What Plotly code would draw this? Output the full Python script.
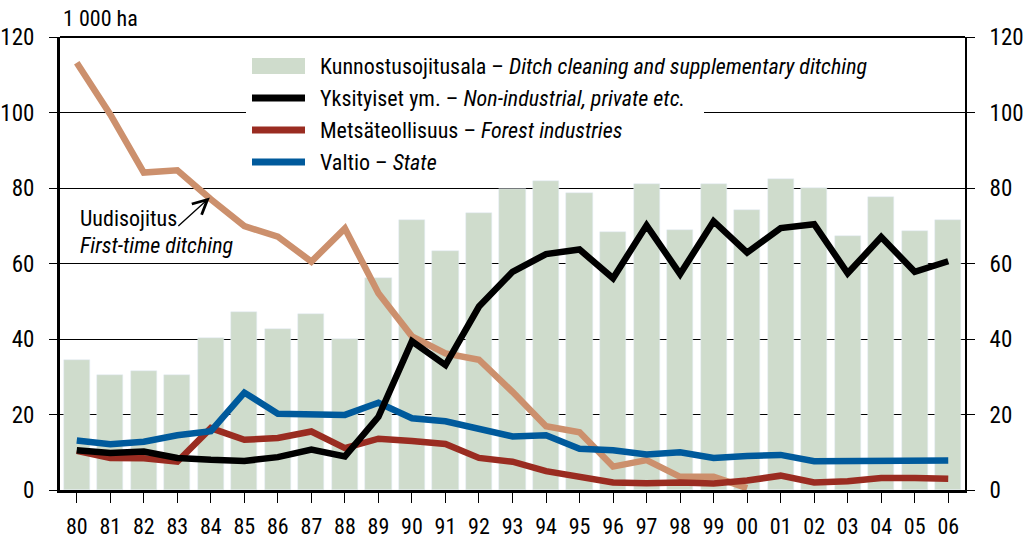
import plotly.graph_objects as go

years = ['80', '81', '82', '83', '84', '85', '86', '87', '88', '89', '90', '91', '92', '93',
         '94', '95', '96', '97', '98', '99', '00', '01', '02', '03', '04', '05', '06']

kunnostus = [34.5, 30.5, 31.5, 30.5, 40.3, 47.2, 42.7, 46.6, 40.0, 56.2, 71.5, 63.3, 73.4, 79.7,
             81.9, 78.7, 68.3, 81.0, 68.9, 81.0, 74.2, 82.4, 80.0, 67.3, 77.6, 68.6, 71.5]
yksityiset = [10.5, 9.8, 10.2, 8.5, 8.0, 7.7, 8.7, 10.7, 8.9, 19.4, 39.4, 33.1, 48.6, 57.8,
              62.5, 63.7, 56.1, 70.1, 57.2, 71.2, 62.9, 69.4, 70.4, 57.4, 67.0, 57.8, 60.6]
metsateollisuus = [10.4, 8.5, 8.4, 7.5, 16.4, 13.3, 13.8, 15.5, 11.1, 13.6, 13.0, 12.2, 8.5, 7.5,
                   5.0, 3.6, 2.0, 1.8, 2.0, 1.7, 2.5, 3.8, 2.0, 2.3, 3.2, 3.2, 3.0]
valtio = [13.1, 12.1, 12.8, 14.5, 15.6, 25.8, 20.2, 20.0, 19.9, 23.1, 19.0, 18.2, 16.4, 14.2,
          14.5, 10.9, 10.5, 9.4, 10.0, 8.5, 9.0, 9.3, 7.6, 7.7, 7.5, 7.7, 7.8]
uudisojitus = [113.2, 99.5, 84.1, 84.7, 77.0, 69.9, 67.1, 60.5, 69.3, 52.1, 40.7, 36.2, 34.5, 26.0,
               16.9, 15.3, 6.2, 7.9, 3.5, 3.5, 0.5, None, None, None, None, None, None]

font = 'Liberation Sans Narrow, Roboto Condensed, DejaVu Sans Condensed, sans-serif'
c_bar = '#cfdccc'
c_black = '#000000'
c_red = '#9a2c21'
c_blue = '#005a9c'
c_tan = '#cc906d'

x = list(range(len(years)))

fig = go.Figure()
fig.add_trace(go.Bar(x=x, y=kunnostus, marker_color=c_bar, width=0.78, name='Kunnostusojitusala'))
fig.add_trace(go.Scatter(x=x, y=uudisojitus, mode='lines', line=dict(color=c_tan, width=6.5),
                         name='Uudisojitus'))
fig.add_trace(go.Scatter(x=x, y=metsateollisuus, mode='lines', line=dict(color=c_red, width=6.5),
                         name='Metsäteollisuus'))
fig.add_trace(go.Scatter(x=x, y=valtio, mode='lines', line=dict(color=c_blue, width=6.5),
                         name='Valtio'))
fig.add_trace(go.Scatter(x=x, y=yksityiset, mode='lines', line=dict(color=c_black, width=6.5),
                         name='Yksityiset ym.'))
# invisible trace so the right axis gets drawn
fig.add_trace(go.Scatter(x=[0], y=[0], yaxis='y2', mode='markers', marker=dict(opacity=0),
                         hoverinfo='skip', showlegend=False))

# hand-made legend
rows = [
    ('bar', c_bar, 'Kunnostusojitusala – <i>Ditch cleaning and supplementary ditching</i>'),
    ('line', c_black, 'Yksityiset ym. – <i>Non-industrial, private etc.</i>'),
    ('line', c_red, 'Metsäteollisuus – <i>Forest industries</i>'),
    ('line', c_blue, 'Valtio – <i>State</i>'),
]
L, T, W, H = 60, 37, 905, 453


def px(u):
    return (u - L) / W


def py(v):
    return (T + H - v) / H


shapes = [dict(type='rect', xref='paper', yref='paper', x0=px(246), x1=px(704), y0=py(180), y1=py(44),
               fillcolor='white', line_width=0, layer='above')]
annotations = []
for i, (kind, col, txt) in enumerate(rows):
    yc = 66 + i * 32
    if kind == 'bar':
        shapes.append(dict(type='rect', xref='paper', yref='paper', x0=px(252), x1=px(305),
                           y0=py(yc + 8), y1=py(yc - 8), fillcolor=col, line_width=0, layer='above'))
    else:
        shapes.append(dict(type='line', xref='paper', yref='paper', x0=px(252), x1=px(305),
                           y0=py(yc), y1=py(yc), line=dict(color=col, width=7), layer='above'))
    annotations.append(dict(xref='paper', yref='paper', x=px(318), y=py(yc), text=txt, showarrow=False,
                            xanchor='left', yanchor='middle', font=dict(size=22, color='black')))

annotations += [
    dict(xref='paper', yref='paper', x=px(61), y=py(18), text='1 000 ha', showarrow=False,
         xanchor='left', yanchor='middle', font=dict(size=22, color='black')),
    dict(xref='paper', yref='paper', x=px(78), y=py(218), text='Uudisojitus', showarrow=False,
         xanchor='left', yanchor='middle', font=dict(size=22, color='black')),
    dict(xref='paper', yref='paper', x=px(78), y=py(245), text='<i>First-time ditching</i>', showarrow=False,
         xanchor='left', yanchor='middle', font=dict(size=22, color='black')),
    dict(xref='x', yref='y', x=3.97, y=77.5, ax=-33, ay=30, text='', showarrow=True,
         arrowhead=5, arrowsize=2.2, arrowwidth=1.3, arrowcolor='black'),
]

fig.update_layout(
    width=1024, height=540,
    margin=dict(l=L, r=1024 - L - W, t=T, b=540 - T - H),
    paper_bgcolor='white', plot_bgcolor='white',
    font=dict(family=font, size=23, color='black'),
    showlegend=False,
    bargap=0,
    shapes=shapes,
    annotations=annotations,
    xaxis=dict(range=[-0.5, 26.5], tickmode='array', tickvals=x, ticktext=years, automargin=False,
               showline=True, linecolor='black', linewidth=3, ticks='outside', ticklen=10,
               tickwidth=1, tickcolor='black', showgrid=False, zeroline=False,
               ticklabelstandoff=5, tickfont=dict(size=22), mirror=False),
    yaxis=dict(range=[0, 120], tickvals=[0, 20, 40, 60, 80, 100, 120], showline=True, automargin=False,
               linecolor='black', linewidth=3, ticks='outside', ticklen=8, tickwidth=1,
               tickcolor='black', showgrid=True, gridcolor='black', gridwidth=1, zeroline=False,
               ticklabelstandoff=10),
    yaxis2=dict(range=[0, 120], tickvals=[0, 20, 40, 60, 80, 100, 120], overlaying='y', side='right',
                automargin=False,
                showline=True, linecolor='black', linewidth=2, ticks='outside', ticklen=8, tickwidth=1,
                tickcolor='black', showgrid=False, zeroline=False, ticklabelstandoff=10),
)
# top border
fig.add_shape(type='line', xref='paper', yref='paper', x0=0, x1=1, y0=1, y1=1,
              line=dict(color='black', width=2))

# drop the page's default body margin so the chart sits at the window's corner
fig.write_html('out.html', config={'displayModeBar': False},
               post_script="document.body.style.margin='0';")
